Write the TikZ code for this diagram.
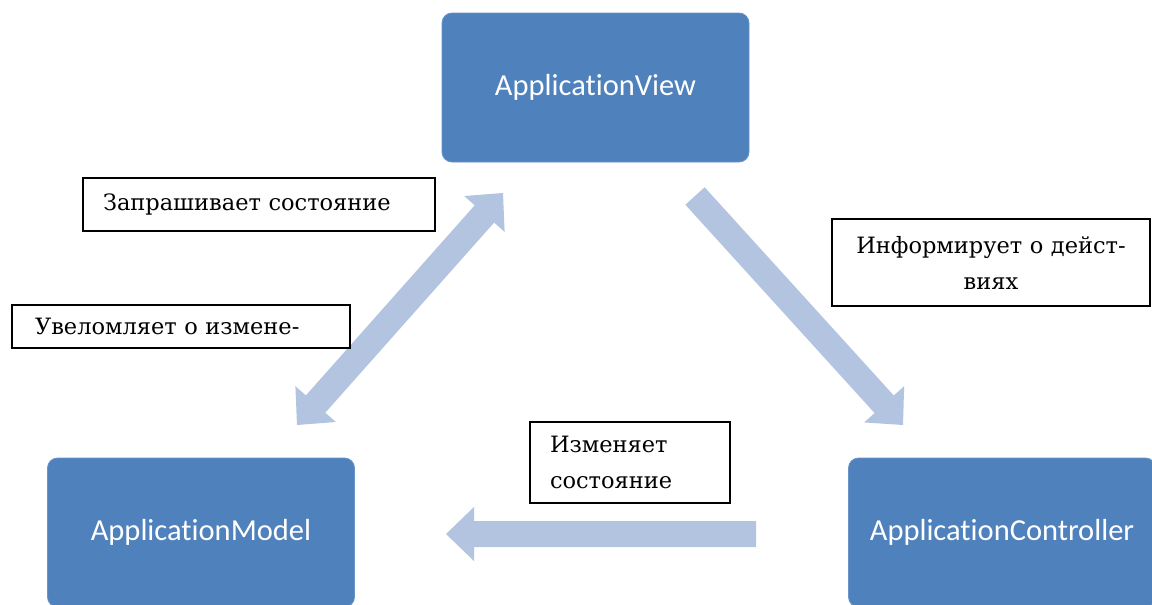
\documentclass[tikz,border=0pt]{standalone}
\usepackage{fontspec}
\setmainfont{DejaVu Serif}
\newfontfamily\boxfont[Ligatures=NoCommon]{Carlito}
\usetikzlibrary{calc}
\definecolor{boxblue}{RGB}{79,129,189}
\definecolor{arrowblue}{RGB}{179,196,224}
\newcommand\fatarrow[3]{% prefix, tail, tip
  \coordinate (#1b) at ($(#3)!28pt!(#2)$);
  \fill[arrowblue] ($(#2)!13pt!90:(#3)$) -- ($(#1b)!13pt!90:(#3)$) -- ($(#1b)!27pt!90:(#3)$)
    -- (#3) -- ($(#1b)!27pt!-90:(#3)$) -- ($(#1b)!13pt!-90:(#3)$) -- ($(#2)!13pt!-90:(#3)$) -- cycle;
}
\newcommand\fatdarrow[3]{% prefix, tip1, tip2
  \coordinate (#1p) at ($(#2)!28pt!(#3)$);
  \coordinate (#1q) at ($(#3)!28pt!(#2)$);
  \fill[arrowblue] (#2) -- ($(#1p)!27pt!90:(#2)$) -- ($(#1p)!13pt!90:(#2)$) -- ($(#1q)!13pt!-90:(#3)$)
    -- ($(#1q)!27pt!-90:(#3)$) -- (#3) -- ($(#1q)!27pt!90:(#3)$) -- ($(#1q)!13pt!90:(#3)$)
    -- ($(#1p)!13pt!-90:(#2)$) -- ($(#1p)!27pt!-90:(#2)$) -- cycle;
}
\tikzset{
  bluebox/.style={rectangle, rounded corners=10pt, fill=boxblue, draw=boxblue!85!white, line width=0.8pt,
    text=white, font=\boxfont\fontsize{30.5}{34}\selectfont, inner sep=0pt,
    minimum width=307pt, minimum height=149pt},
  lbl/.style={rectangle, draw=black, line width=1.4pt, fill=white, inner ysep=0pt,
    font=\fontsize{22.5}{36}\selectfont}
}
\begin{document}
\begin{tikzpicture}[x=1pt,y=-1pt]
\useasboundingbox (0,0) rectangle (1152,605);
\fill[white] (0,0) rectangle (1152,605);
\clip (0,0) rectangle (1152,605);
% arrow end points
\coordinate (d1) at (503,193); \coordinate (d2) at (297,425);
\coordinate (c1) at (695,196); \coordinate (c2) at (903,425);
\coordinate (h1) at (756,534); \coordinate (h2) at (446,534);
\fatdarrow{vm}{d1}{d2}
\fatarrow{vc}{c1}{c2}
\fatarrow{cm}{h1}{h2}
% main boxes
\node[bluebox] (view) at (595.5,87.5) {ApplicationView};
\node[bluebox] (model) at (201,532.5) {ApplicationModel};
\node[bluebox] (ctrl) at (1002,532.5) {ApplicationController};
% labels
\node[lbl, minimum height=53pt, inner xsep=20pt, text width=312pt, align=left] (q) at (259,204.5) {Запрашивает состояние};
\node[lbl, minimum height=43pt, inner xsep=23pt, text width=292pt, align=left] (n) at (181,326.5) {Увеломляет о измене-};
\node[lbl, minimum height=87pt, inner xsep=10pt, text width=298pt, align=center] (i) at (991,262.5) {Информирует о дейст-\\виях};
\node[lbl, minimum height=81pt, inner xsep=20pt, text width=160pt, align=left] (s) at (630,462.5) {Изменяет\\состояние};
\end{tikzpicture}
\end{document}
